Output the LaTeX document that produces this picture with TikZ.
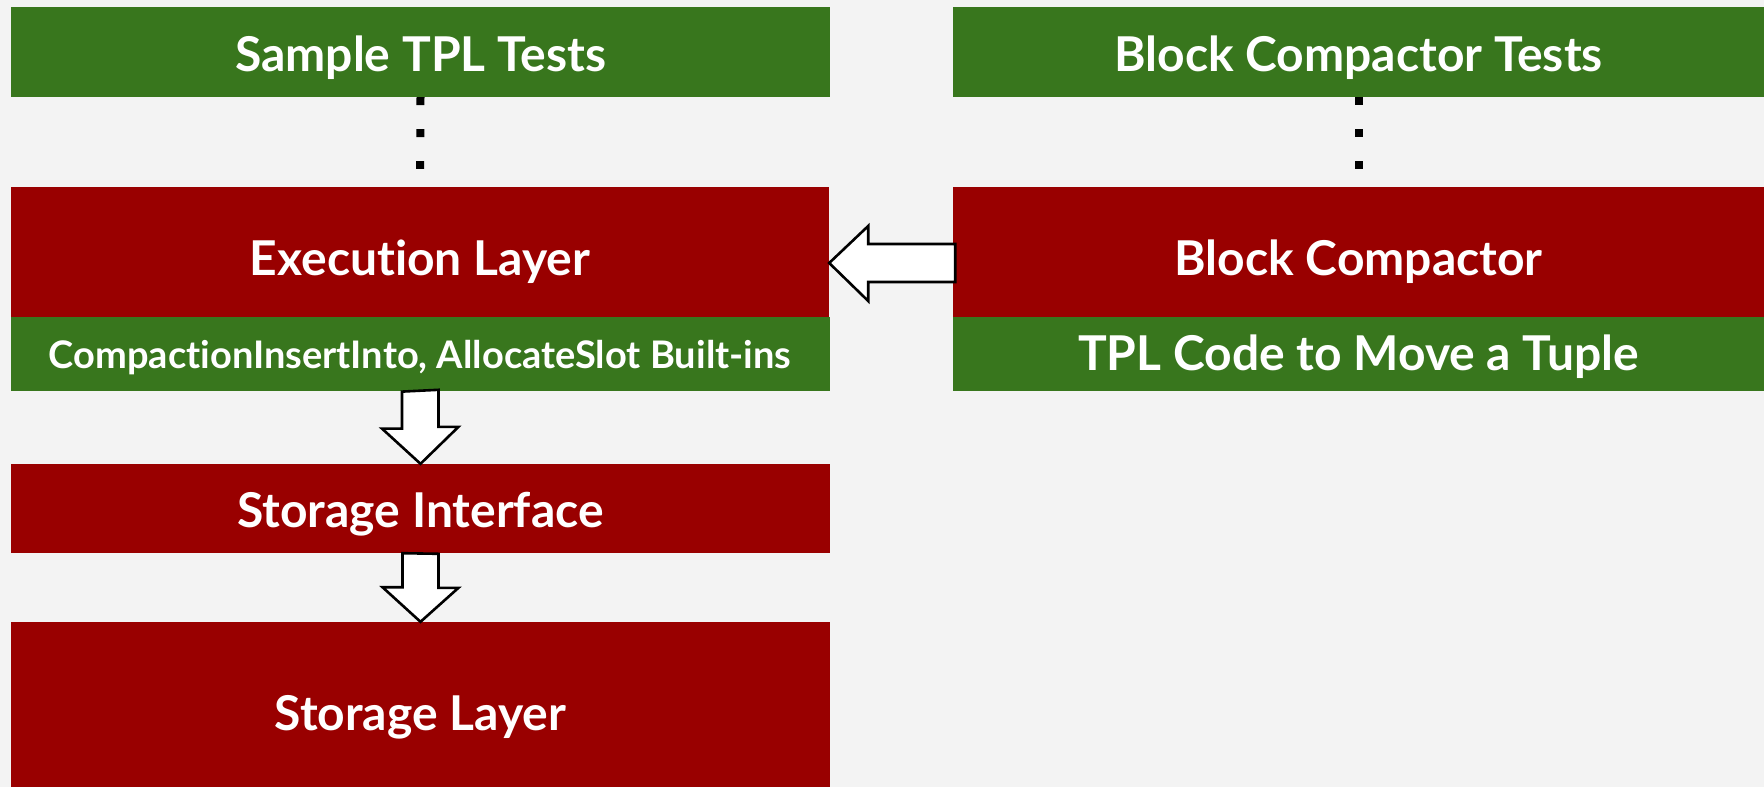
\documentclass[tikz,border=0pt]{standalone}
\usepackage{fontspec}
\setmainfont{Lato}[Ligatures=NoCommon]
\usetikzlibrary{calc,positioning}
\definecolor{slidebg}{HTML}{F3F3F3}
\definecolor{testgreen}{HTML}{38761D}
\definecolor{layerred}{HTML}{990000}

\tikzset{
  box/.style={rectangle,inner sep=0pt,text=white,text depth=0pt,
    font=\fontsize{48}{52}\selectfont\bfseries},
  greenbox/.style={box,fill=testgreen},
  redbox/.style={box,fill=layerred},
  dotline/.style={black,line width=8pt,dash pattern=on 8pt off 24pt,shorten >=18pt},
  blockarrow/.style={draw=black,fill=white,line width=2.6pt,line join=miter}
}

\begin{document}
\begin{tikzpicture}[x=1pt,y=-1pt]
  % --- background ---
  \fill[slidebg] (0,0) rectangle (1764,787);
  \useasboundingbox (0,0) rectangle (1764,787);

  % --- left column ---
  \node[greenbox,minimum width=819pt,minimum height=90pt,text height=38pt] (tpltests) at (420.5,52) {Sample TPL Tests};
  \node[redbox,minimum width=818pt,minimum height=130pt,text height=46pt] (exec) at (420,252) {Execution Layer};
  \node[greenbox,minimum width=819pt,minimum height=74pt,text height=28pt,below=0pt of exec.south,
    font=\fontsize{38}{42}\selectfont\bfseries] (builtins) {CompactionInsertInto, AllocateSlot Built-ins};
  \node[redbox,minimum width=819pt,minimum height=89pt,text height=37pt] (storeif) at (420.5,508.5) {Storage Interface};
  \node[redbox,minimum width=819pt,minimum height=165pt,text height=51pt] (storelayer) at (420.5,704.5) {Storage Layer};

  % --- right column ---
  \node[greenbox,minimum width=811pt,minimum height=90pt,text height=38pt] (bctests) at (1358.5,52) {Block Compactor Tests};
  \node[redbox,minimum width=811pt,minimum height=130pt,text height=46pt] (compactor) at (1358.5,252) {Block Compactor};
  \node[greenbox,minimum width=811pt,minimum height=74pt,text height=32pt,below=0pt of compactor.south] (tplcode) {TPL Code to Move a Tuple};

  % --- dotted links from the tests ---
  \draw[dotline] (tpltests.south) -- (exec.north);
  \draw[dotline] (bctests.south) -- (compactor.north);

  % --- block arrows ---
  % compactor calls into the execution layer
  \draw[blockarrow] ($(exec.east)+(0,11)$) -- ++(39,-37) -- ++(0,18)
    -- ++(87,0) -- ++(0,38) -- ++(-87,0) -- ++(0,19) -- cycle;
  % down the stack
  \draw[blockarrow] ($(builtins.south)+(-18,0)$) -- ++(0,37) -- ++(-20,0)
    -- (storeif.north) -- ++(38,-37) -- ++(-20,0) -- ++(0,-37) -- cycle;
  \draw[blockarrow] ($(storeif.south)+(-18,0)$) -- ++(0,34) -- ++(-20,0)
    -- (storelayer.north) -- ++(38,-34) -- ++(-20,0) -- ++(0,-34) -- cycle;

\end{tikzpicture}
\end{document}
